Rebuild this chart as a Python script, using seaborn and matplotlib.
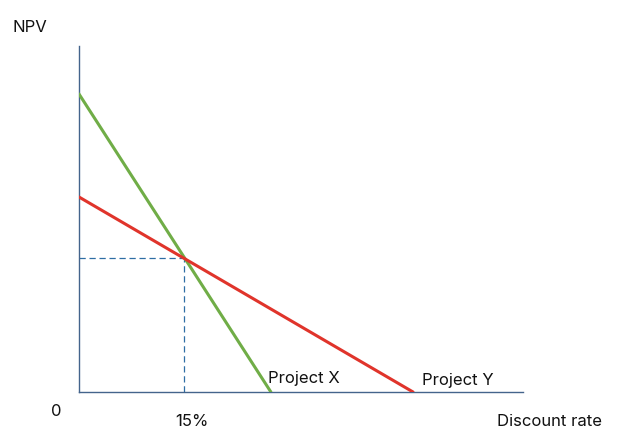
import matplotlib
matplotlib.use("Agg")
import matplotlib.pyplot as plt
import seaborn as sns
import pandas as pd

# Data (arbitrary NPV units, discount rate in %)
project_x_rate = [0, 27.4]
project_x_npv = [298, 0]
project_y_rate = [0, 47.7]
project_y_npv = [195, 0]
crossover_rate = 15
crossover_npv = 134
x_max = 63.4
y_max = 346

sns.set_style("white")
plt.rcParams['font.family'] = ['Inter', 'DejaVu Sans']

W, H = 619, 441
fig = plt.figure(figsize=(W / 100, H / 100), dpi=100)
ax = fig.add_axes([79 / W, (H - 392) / H, (523 - 79) / W, (392 - 46) / H])

df = pd.concat([
    pd.DataFrame({"rate": project_x_rate, "npv": project_x_npv, "project": "Project X"}),
    pd.DataFrame({"rate": project_y_rate, "npv": project_y_npv, "project": "Project Y"}),
])
sns.lineplot(data=df, x="rate", y="npv", hue="project",
             palette={"Project X": "#70ad47", "Project Y": "#e0342b"},
             linewidth=2.2, ax=ax, legend=False, zorder=3)

dash_col = "#2e6da4"
ax.plot([0, crossover_rate], [crossover_npv, crossover_npv], ls=(0, (5, 3)), color=dash_col, lw=0.9, zorder=2)
ax.plot([crossover_rate, crossover_rate], [0, crossover_npv], ls=(0, (5, 3)), color=dash_col, lw=0.9, zorder=2)

ax.set_xlim(0, x_max)
ax.set_ylim(0, y_max)
ax.set_xticks([])
ax.set_yticks([])
ax.set_xlabel("")
ax.set_ylabel("")
for s in ["top", "right"]:
    ax.spines[s].set_visible(False)
for s in ["left", "bottom"]:
    ax.spines[s].set_color("#44648c")
    ax.spines[s].set_linewidth(1.0)

fs = 12
def ftext(x, y, s, ha="left"):
    fig.text(x / W, 1 - y / H, s, ha=ha, va="center", fontsize=fs, color="#111111")

ftext(13, 27, "NPV")
ftext(56, 411, "0", ha="center")
ftext(192, 422, "15%", ha="center")
ftext(497, 422, "Discount rate")
ftext(268, 378, "Project X")
ftext(422, 380, "Project Y")

fig.savefig("out.png", dpi=100)
